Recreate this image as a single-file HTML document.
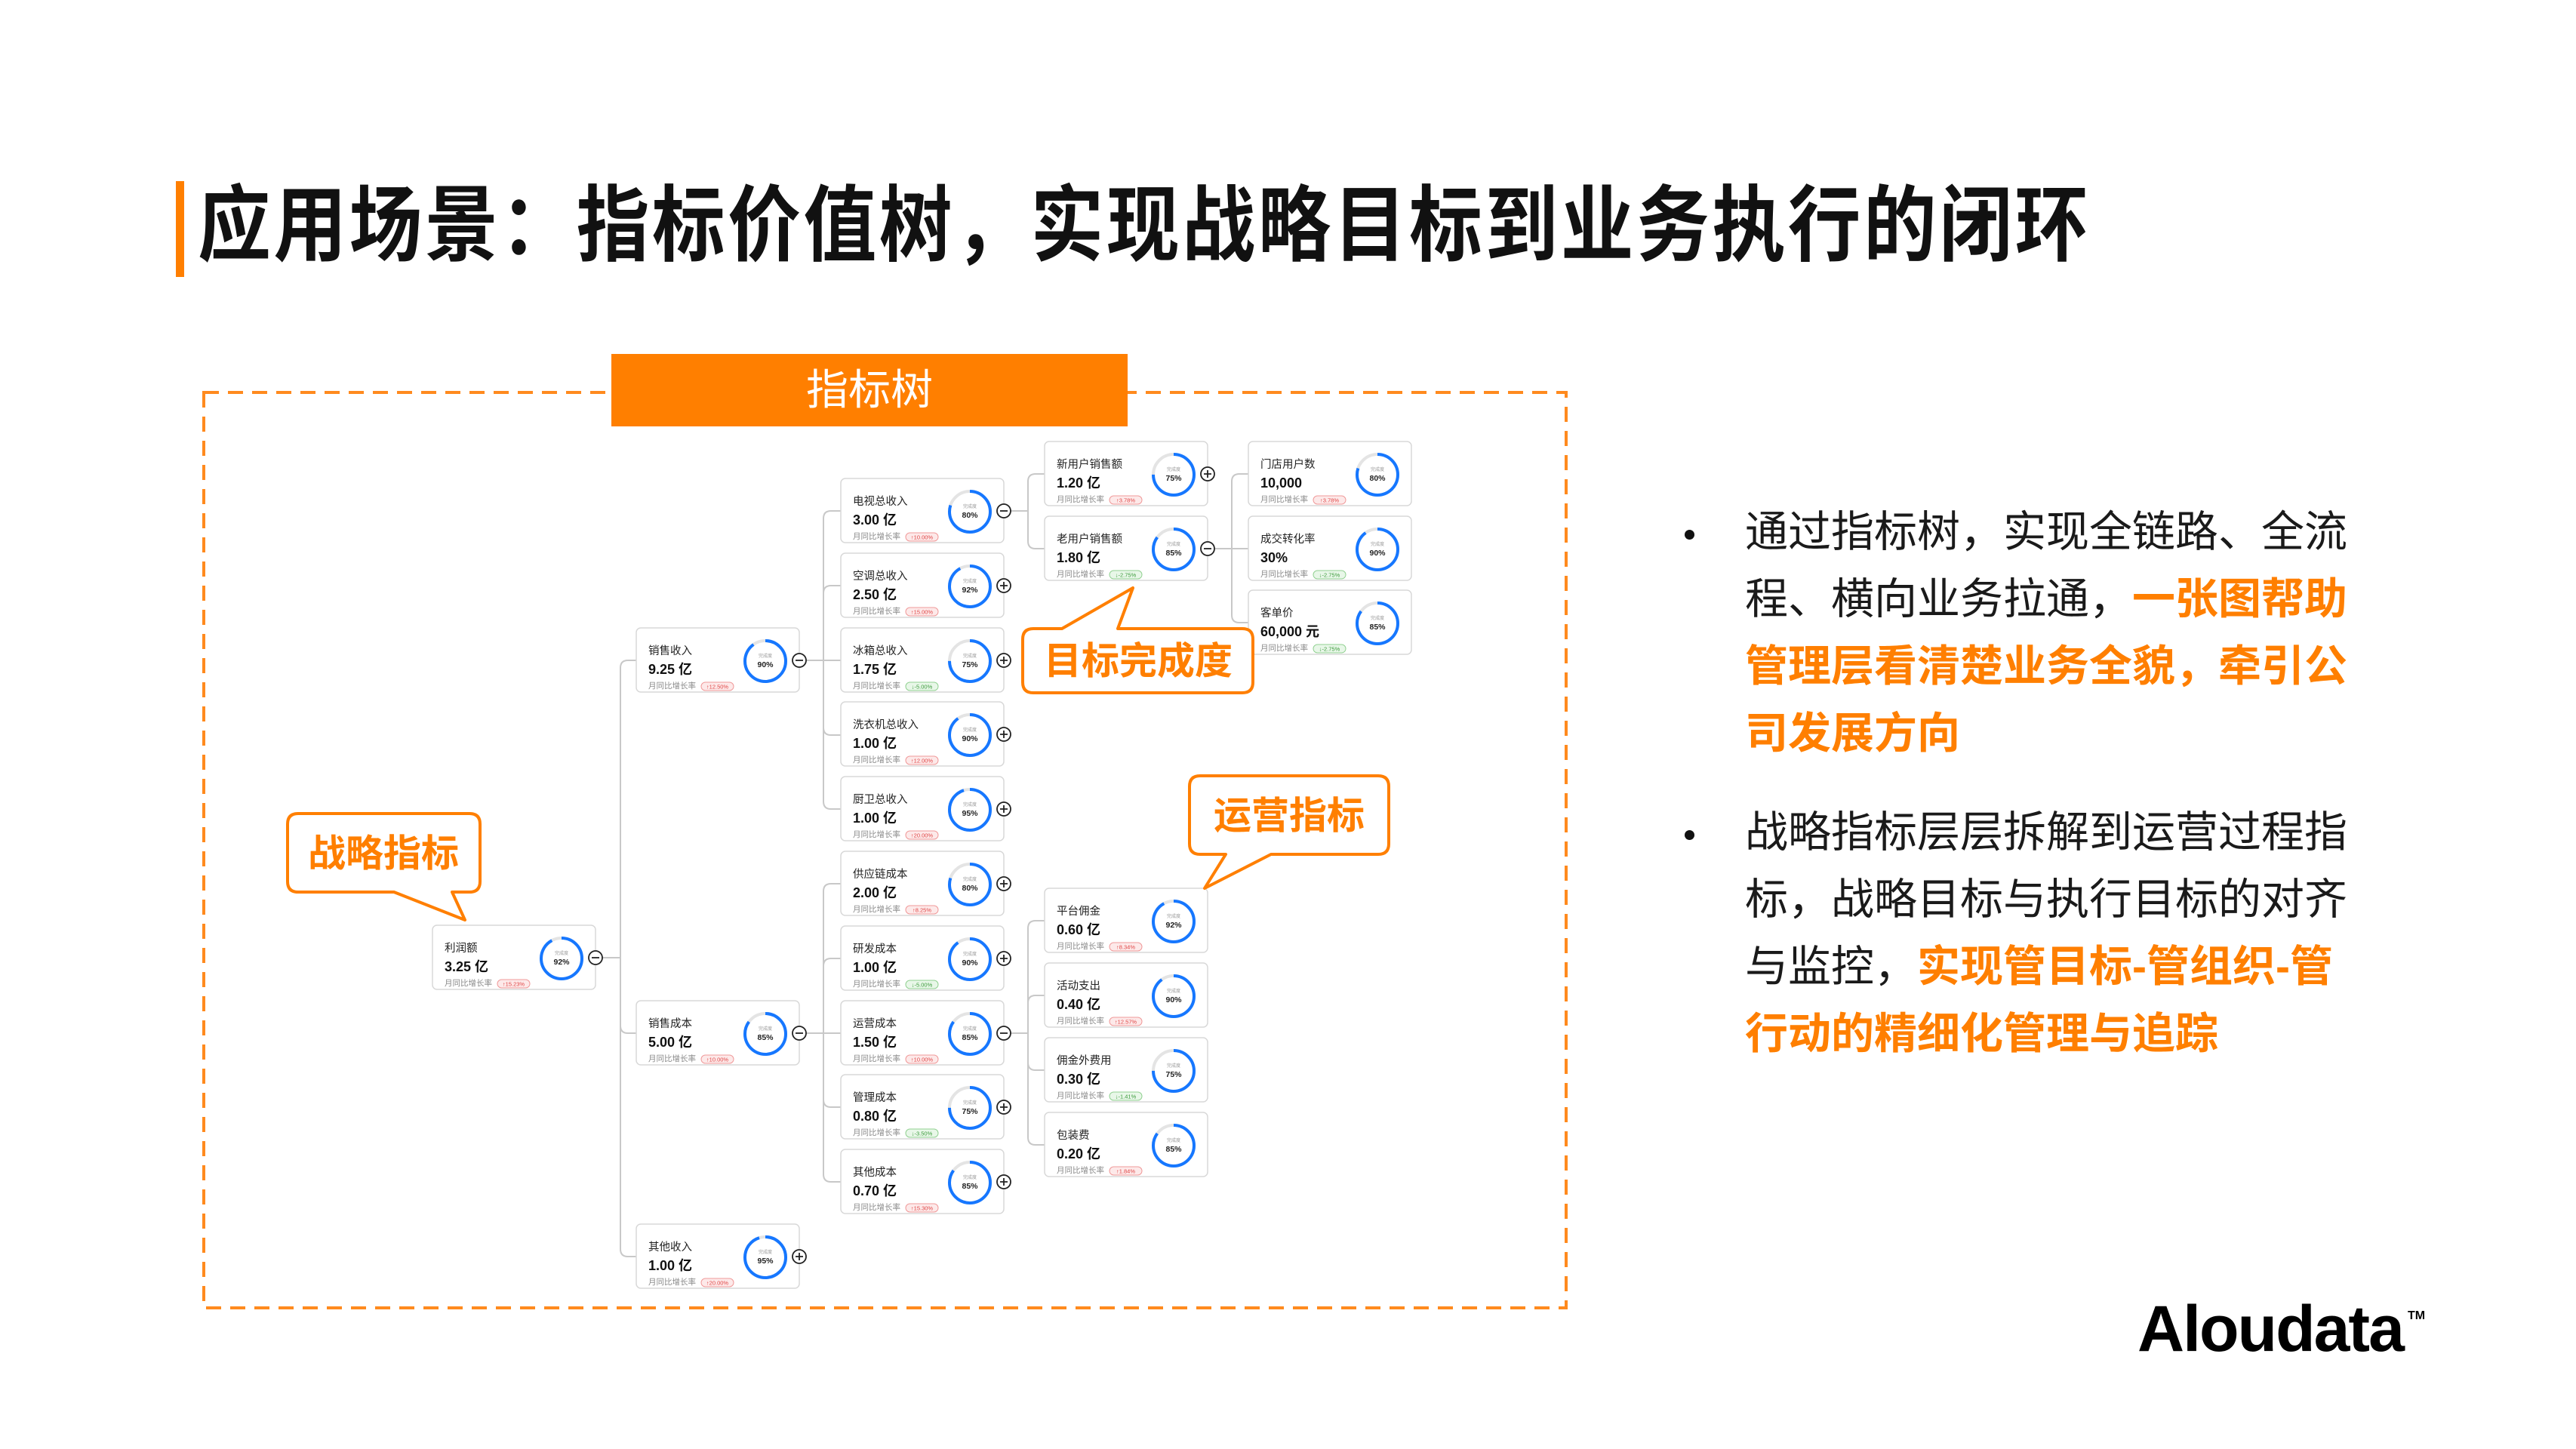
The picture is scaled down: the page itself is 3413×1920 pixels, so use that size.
<!DOCTYPE html>
<html><head><meta charset="utf-8">
<style>
html,body{margin:0;padding:0;background:#fff;}
body{width:3413px;height:1920px;position:relative;overflow:hidden;font-family:"Liberation Sans","Noto Sans CJK SC",sans-serif;}
.abs{position:absolute;}
.title{left:262px;top:238px;font-size:110px;line-height:124px;font-weight:bold;color:#111;letter-spacing:4px;white-space:nowrap;transform:scaleX(0.88);transform-origin:0 50%;}
.bar{left:233px;top:240px;width:11px;height:127px;background:#ff7f00;}
.hdr{left:810px;top:469px;width:684px;height:96px;background:#ff7f00;color:#fff;font-size:56px;line-height:96px;text-align:center;}
.txt{left:2312px;font-size:57px;line-height:89px;color:#1a1a1a;white-space:nowrap;}
.txt b{color:#ff7f00;}
.dot{width:13px;height:13px;border-radius:50%;background:#111;left:2232px;}
.logo{left:2832px;top:1712px;font-size:86px;font-weight:bold;color:#000;letter-spacing:-2px;}
.tm{left:3190px;top:1735px;font-size:16px;font-weight:bold;}
</style></head><body>
<div class="abs bar"></div>
<div class="abs title">应用场景：指标价值树，实现战略目标到业务执行的闭环</div>

<svg class="abs" style="left:0;top:0" width="3413" height="1920" font-family="Liberation Sans, Noto Sans CJK SC, sans-serif">
<rect x="270" y="520" width="1805" height="1213" fill="none" stroke="#ff8a1e" stroke-width="4" stroke-dasharray="20 12"/>
<g transform="translate(0,-6)">
<g fill="none" stroke="#c8c8c8" stroke-width="2">
<path d="M798,1275 H822"/><path d="M822,1275 V891 Q822,881 832,881 H843"/><path d="M822,1275 V1365 Q822,1375 832,1375 H843"/><path d="M822,1275 V1661 Q822,1671 832,1671 H843"/>
<path d="M1068,881 H1114"/><path d="M1091,881 V693 Q1091,683 1101,683 H1114"/><path d="M1091,881 V792 Q1091,782 1101,782 H1114"/><path d="M1091,881 V970 Q1091,980 1101,980 H1114"/><path d="M1091,881 V1068 Q1091,1078 1101,1078 H1114"/>
<path d="M1068,1375 H1114"/><path d="M1091,1375 V1187 Q1091,1177 1101,1177 H1114"/><path d="M1091,1375 V1286 Q1091,1276 1101,1276 H1114"/><path d="M1091,1375 V1463 Q1091,1473 1101,1473 H1114"/><path d="M1091,1375 V1562 Q1091,1572 1101,1572 H1114"/>
<path d="M1339,683 H1362"/><path d="M1362,683 V644 Q1362,634 1372,634 H1384"/><path d="M1362,683 V723 Q1362,733 1372,733 H1384"/>
<path d="M1339,1375 H1362"/><path d="M1362,1375 V1236 Q1362,1226 1372,1226 H1384"/><path d="M1362,1375 V1335 Q1362,1325 1372,1325 H1384"/><path d="M1362,1375 V1414 Q1362,1424 1372,1424 H1384"/><path d="M1362,1375 V1513 Q1362,1523 1372,1523 H1384"/>
<path d="M1609,733 H1654"/><path d="M1632,733 V644 Q1632,634 1642,634 H1654"/><path d="M1632,733 V821 Q1632,831 1642,831 H1654"/>
</g>
<defs>
<g id="box"><rect x="0" y="0" width="216" height="85" rx="6" fill="#fff" stroke="#d8d8d8" stroke-width="1.5"/></g>
<g id="minus"><circle cx="216" cy="43" r="9" fill="#fff" stroke="#222" stroke-width="1.8"/><path d="M211,43 H221" stroke="#222" stroke-width="1.8"/></g>
<g id="plus"><circle cx="216" cy="43" r="9" fill="#fff" stroke="#222" stroke-width="1.8"/><path d="M211,43 H221 M216,38 V48" stroke="#222" stroke-width="1.8"/></g>
<g id="ring"><circle cx="171" cy="44" r="27" fill="none" stroke="#e4e4e4" stroke-width="4"/><text x="171" y="39" font-size="6" fill="#999" text-anchor="middle">完成度</text></g>
<g id="up"><rect x="86" y="72" width="43" height="11" rx="5.5" fill="#fde9e9" stroke="#f09a9a"/></g>
<g id="dn"><rect x="86" y="72" width="43" height="11" rx="5.5" fill="#e8f7e8" stroke="#92d192"/></g>
</defs>
<g font-family="Liberation Sans, Noto Sans CJK SC, sans-serif">
<g transform="translate(573,1232)"><use href="#box"/><text x="16" y="35" font-size="14.5" fill="#222">利润额</text><text x="16" y="61" font-size="18" font-weight="bold" fill="#111">3.25 亿</text><text x="16" y="80" font-size="10.5" fill="#888">月同比增长率</text><use href="#up"/><text x="107.5" y="80.5" font-size="7.5" fill="#e04646" text-anchor="middle">↑15.23%</text><use href="#ring"/><circle cx="171" cy="44" r="27" fill="none" stroke="#1677ff" stroke-width="4" stroke-dasharray="156.1 200" transform="rotate(-90 171 44)"/><text x="171" y="52" font-size="10.5" font-weight="bold" fill="#222" text-anchor="middle">92%</text><use href="#minus"/></g>

<g transform="translate(843,838)"><use href="#box"/><text x="16" y="35" font-size="14.5" fill="#222">销售收入</text><text x="16" y="61" font-size="18" font-weight="bold" fill="#111">9.25 亿</text><text x="16" y="80" font-size="10.5" fill="#888">月同比增长率</text><use href="#up"/><text x="107.5" y="80.5" font-size="7.5" fill="#e04646" text-anchor="middle">↑12.50%</text><use href="#ring"/><circle cx="171" cy="44" r="27" fill="none" stroke="#1677ff" stroke-width="4" stroke-dasharray="152.7 200" transform="rotate(-90 171 44)"/><text x="171" y="52" font-size="10.5" font-weight="bold" fill="#222" text-anchor="middle">90%</text><use href="#minus"/></g>
<g transform="translate(843,1332)"><use href="#box"/><text x="16" y="35" font-size="14.5" fill="#222">销售成本</text><text x="16" y="61" font-size="18" font-weight="bold" fill="#111">5.00 亿</text><text x="16" y="80" font-size="10.5" fill="#888">月同比增长率</text><use href="#up"/><text x="107.5" y="80.5" font-size="7.5" fill="#e04646" text-anchor="middle">↑10.00%</text><use href="#ring"/><circle cx="171" cy="44" r="27" fill="none" stroke="#1677ff" stroke-width="4" stroke-dasharray="144.2 200" transform="rotate(-90 171 44)"/><text x="171" y="52" font-size="10.5" font-weight="bold" fill="#222" text-anchor="middle">85%</text><use href="#minus"/></g>
<g transform="translate(843,1628)"><use href="#box"/><text x="16" y="35" font-size="14.5" fill="#222">其他收入</text><text x="16" y="61" font-size="18" font-weight="bold" fill="#111">1.00 亿</text><text x="16" y="80" font-size="10.5" fill="#888">月同比增长率</text><use href="#up"/><text x="107.5" y="80.5" font-size="7.5" fill="#e04646" text-anchor="middle">↑20.00%</text><use href="#ring"/><circle cx="171" cy="44" r="27" fill="none" stroke="#1677ff" stroke-width="4" stroke-dasharray="161.2 200" transform="rotate(-90 171 44)"/><text x="171" y="52" font-size="10.5" font-weight="bold" fill="#222" text-anchor="middle">95%</text><use href="#plus"/></g>

<g transform="translate(1114,640)"><use href="#box"/><text x="16" y="35" font-size="14.5" fill="#222">电视总收入</text><text x="16" y="61" font-size="18" font-weight="bold" fill="#111">3.00 亿</text><text x="16" y="80" font-size="10.5" fill="#888">月同比增长率</text><use href="#up"/><text x="107.5" y="80.5" font-size="7.5" fill="#e04646" text-anchor="middle">↑10.00%</text><use href="#ring"/><circle cx="171" cy="44" r="27" fill="none" stroke="#1677ff" stroke-width="4" stroke-dasharray="135.7 200" transform="rotate(-90 171 44)"/><text x="171" y="52" font-size="10.5" font-weight="bold" fill="#222" text-anchor="middle">80%</text><use href="#minus"/></g>
<g transform="translate(1114,739)"><use href="#box"/><text x="16" y="35" font-size="14.5" fill="#222">空调总收入</text><text x="16" y="61" font-size="18" font-weight="bold" fill="#111">2.50 亿</text><text x="16" y="80" font-size="10.5" fill="#888">月同比增长率</text><use href="#up"/><text x="107.5" y="80.5" font-size="7.5" fill="#e04646" text-anchor="middle">↑15.00%</text><use href="#ring"/><circle cx="171" cy="44" r="27" fill="none" stroke="#1677ff" stroke-width="4" stroke-dasharray="156.1 200" transform="rotate(-90 171 44)"/><text x="171" y="52" font-size="10.5" font-weight="bold" fill="#222" text-anchor="middle">92%</text><use href="#plus"/></g>
<g transform="translate(1114,838)"><use href="#box"/><text x="16" y="35" font-size="14.5" fill="#222">冰箱总收入</text><text x="16" y="61" font-size="18" font-weight="bold" fill="#111">1.75 亿</text><text x="16" y="80" font-size="10.5" fill="#888">月同比增长率</text><use href="#dn"/><text x="107.5" y="80.5" font-size="7.5" fill="#3a9a3a" text-anchor="middle">↓-5.00%</text><use href="#ring"/><circle cx="171" cy="44" r="27" fill="none" stroke="#1677ff" stroke-width="4" stroke-dasharray="127.2 200" transform="rotate(-90 171 44)"/><text x="171" y="52" font-size="10.5" font-weight="bold" fill="#222" text-anchor="middle">75%</text><use href="#plus"/></g>
<g transform="translate(1114,936)"><use href="#box"/><text x="16" y="35" font-size="14.5" fill="#222">洗衣机总收入</text><text x="16" y="61" font-size="18" font-weight="bold" fill="#111">1.00 亿</text><text x="16" y="80" font-size="10.5" fill="#888">月同比增长率</text><use href="#up"/><text x="107.5" y="80.5" font-size="7.5" fill="#e04646" text-anchor="middle">↑12.00%</text><use href="#ring"/><circle cx="171" cy="44" r="27" fill="none" stroke="#1677ff" stroke-width="4" stroke-dasharray="152.7 200" transform="rotate(-90 171 44)"/><text x="171" y="52" font-size="10.5" font-weight="bold" fill="#222" text-anchor="middle">90%</text><use href="#plus"/></g>
<g transform="translate(1114,1035)"><use href="#box"/><text x="16" y="35" font-size="14.5" fill="#222">厨卫总收入</text><text x="16" y="61" font-size="18" font-weight="bold" fill="#111">1.00 亿</text><text x="16" y="80" font-size="10.5" fill="#888">月同比增长率</text><use href="#up"/><text x="107.5" y="80.5" font-size="7.5" fill="#e04646" text-anchor="middle">↑20.00%</text><use href="#ring"/><circle cx="171" cy="44" r="27" fill="none" stroke="#1677ff" stroke-width="4" stroke-dasharray="161.2 200" transform="rotate(-90 171 44)"/><text x="171" y="52" font-size="10.5" font-weight="bold" fill="#222" text-anchor="middle">95%</text><use href="#plus"/></g>
<g transform="translate(1114,1134)"><use href="#box"/><text x="16" y="35" font-size="14.5" fill="#222">供应链成本</text><text x="16" y="61" font-size="18" font-weight="bold" fill="#111">2.00 亿</text><text x="16" y="80" font-size="10.5" fill="#888">月同比增长率</text><use href="#up"/><text x="107.5" y="80.5" font-size="7.5" fill="#e04646" text-anchor="middle">↑8.25%</text><use href="#ring"/><circle cx="171" cy="44" r="27" fill="none" stroke="#1677ff" stroke-width="4" stroke-dasharray="135.7 200" transform="rotate(-90 171 44)"/><text x="171" y="52" font-size="10.5" font-weight="bold" fill="#222" text-anchor="middle">80%</text><use href="#plus"/></g>
<g transform="translate(1114,1233)"><use href="#box"/><text x="16" y="35" font-size="14.5" fill="#222">研发成本</text><text x="16" y="61" font-size="18" font-weight="bold" fill="#111">1.00 亿</text><text x="16" y="80" font-size="10.5" fill="#888">月同比增长率</text><use href="#dn"/><text x="107.5" y="80.5" font-size="7.5" fill="#3a9a3a" text-anchor="middle">↓-5.00%</text><use href="#ring"/><circle cx="171" cy="44" r="27" fill="none" stroke="#1677ff" stroke-width="4" stroke-dasharray="152.7 200" transform="rotate(-90 171 44)"/><text x="171" y="52" font-size="10.5" font-weight="bold" fill="#222" text-anchor="middle">90%</text><use href="#plus"/></g>
<g transform="translate(1114,1332)"><use href="#box"/><text x="16" y="35" font-size="14.5" fill="#222">运营成本</text><text x="16" y="61" font-size="18" font-weight="bold" fill="#111">1.50 亿</text><text x="16" y="80" font-size="10.5" fill="#888">月同比增长率</text><use href="#up"/><text x="107.5" y="80.5" font-size="7.5" fill="#e04646" text-anchor="middle">↑10.00%</text><use href="#ring"/><circle cx="171" cy="44" r="27" fill="none" stroke="#1677ff" stroke-width="4" stroke-dasharray="144.2 200" transform="rotate(-90 171 44)"/><text x="171" y="52" font-size="10.5" font-weight="bold" fill="#222" text-anchor="middle">85%</text><use href="#minus"/></g>
<g transform="translate(1114,1430)"><use href="#box"/><text x="16" y="35" font-size="14.5" fill="#222">管理成本</text><text x="16" y="61" font-size="18" font-weight="bold" fill="#111">0.80 亿</text><text x="16" y="80" font-size="10.5" fill="#888">月同比增长率</text><use href="#dn"/><text x="107.5" y="80.5" font-size="7.5" fill="#3a9a3a" text-anchor="middle">↓-3.50%</text><use href="#ring"/><circle cx="171" cy="44" r="27" fill="none" stroke="#1677ff" stroke-width="4" stroke-dasharray="127.2 200" transform="rotate(-90 171 44)"/><text x="171" y="52" font-size="10.5" font-weight="bold" fill="#222" text-anchor="middle">75%</text><use href="#plus"/></g>
<g transform="translate(1114,1529)"><use href="#box"/><text x="16" y="35" font-size="14.5" fill="#222">其他成本</text><text x="16" y="61" font-size="18" font-weight="bold" fill="#111">0.70 亿</text><text x="16" y="80" font-size="10.5" fill="#888">月同比增长率</text><use href="#up"/><text x="107.5" y="80.5" font-size="7.5" fill="#e04646" text-anchor="middle">↑15.30%</text><use href="#ring"/><circle cx="171" cy="44" r="27" fill="none" stroke="#1677ff" stroke-width="4" stroke-dasharray="144.2 200" transform="rotate(-90 171 44)"/><text x="171" y="52" font-size="10.5" font-weight="bold" fill="#222" text-anchor="middle">85%</text><use href="#plus"/></g>

<g transform="translate(1384,591)"><use href="#box"/><text x="16" y="35" font-size="14.5" fill="#222">新用户销售额</text><text x="16" y="61" font-size="18" font-weight="bold" fill="#111">1.20 亿</text><text x="16" y="80" font-size="10.5" fill="#888">月同比增长率</text><use href="#up"/><text x="107.5" y="80.5" font-size="7.5" fill="#e04646" text-anchor="middle">↑3.78%</text><use href="#ring"/><circle cx="171" cy="44" r="27" fill="none" stroke="#1677ff" stroke-width="4" stroke-dasharray="127.2 200" transform="rotate(-90 171 44)"/><text x="171" y="52" font-size="10.5" font-weight="bold" fill="#222" text-anchor="middle">75%</text><use href="#plus"/></g>
<g transform="translate(1384,690)"><use href="#box"/><text x="16" y="35" font-size="14.5" fill="#222">老用户销售额</text><text x="16" y="61" font-size="18" font-weight="bold" fill="#111">1.80 亿</text><text x="16" y="80" font-size="10.5" fill="#888">月同比增长率</text><use href="#dn"/><text x="107.5" y="80.5" font-size="7.5" fill="#3a9a3a" text-anchor="middle">↓-2.75%</text><use href="#ring"/><circle cx="171" cy="44" r="27" fill="none" stroke="#1677ff" stroke-width="4" stroke-dasharray="144.2 200" transform="rotate(-90 171 44)"/><text x="171" y="52" font-size="10.5" font-weight="bold" fill="#222" text-anchor="middle">85%</text><use href="#minus"/></g>
<g transform="translate(1384,1183)"><use href="#box"/><text x="16" y="35" font-size="14.5" fill="#222">平台佣金</text><text x="16" y="61" font-size="18" font-weight="bold" fill="#111">0.60 亿</text><text x="16" y="80" font-size="10.5" fill="#888">月同比增长率</text><use href="#up"/><text x="107.5" y="80.5" font-size="7.5" fill="#e04646" text-anchor="middle">↑8.34%</text><use href="#ring"/><circle cx="171" cy="44" r="27" fill="none" stroke="#1677ff" stroke-width="4" stroke-dasharray="156.1 200" transform="rotate(-90 171 44)"/><text x="171" y="52" font-size="10.5" font-weight="bold" fill="#222" text-anchor="middle">92%</text></g>
<g transform="translate(1384,1282)"><use href="#box"/><text x="16" y="35" font-size="14.5" fill="#222">活动支出</text><text x="16" y="61" font-size="18" font-weight="bold" fill="#111">0.40 亿</text><text x="16" y="80" font-size="10.5" fill="#888">月同比增长率</text><use href="#up"/><text x="107.5" y="80.5" font-size="7.5" fill="#e04646" text-anchor="middle">↑12.57%</text><use href="#ring"/><circle cx="171" cy="44" r="27" fill="none" stroke="#1677ff" stroke-width="4" stroke-dasharray="152.7 200" transform="rotate(-90 171 44)"/><text x="171" y="52" font-size="10.5" font-weight="bold" fill="#222" text-anchor="middle">90%</text></g>
<g transform="translate(1384,1381)"><use href="#box"/><text x="16" y="35" font-size="14.5" fill="#222">佣金外费用</text><text x="16" y="61" font-size="18" font-weight="bold" fill="#111">0.30 亿</text><text x="16" y="80" font-size="10.5" fill="#888">月同比增长率</text><use href="#dn"/><text x="107.5" y="80.5" font-size="7.5" fill="#3a9a3a" text-anchor="middle">↓-1.41%</text><use href="#ring"/><circle cx="171" cy="44" r="27" fill="none" stroke="#1677ff" stroke-width="4" stroke-dasharray="127.2 200" transform="rotate(-90 171 44)"/><text x="171" y="52" font-size="10.5" font-weight="bold" fill="#222" text-anchor="middle">75%</text></g>
<g transform="translate(1384,1480)"><use href="#box"/><text x="16" y="35" font-size="14.5" fill="#222">包装费</text><text x="16" y="61" font-size="18" font-weight="bold" fill="#111">0.20 亿</text><text x="16" y="80" font-size="10.5" fill="#888">月同比增长率</text><use href="#up"/><text x="107.5" y="80.5" font-size="7.5" fill="#e04646" text-anchor="middle">↑1.84%</text><use href="#ring"/><circle cx="171" cy="44" r="27" fill="none" stroke="#1677ff" stroke-width="4" stroke-dasharray="144.2 200" transform="rotate(-90 171 44)"/><text x="171" y="52" font-size="10.5" font-weight="bold" fill="#222" text-anchor="middle">85%</text></g>

<g transform="translate(1654,591)"><use href="#box"/><text x="16" y="35" font-size="14.5" fill="#222">门店用户数</text><text x="16" y="61" font-size="18" font-weight="bold" fill="#111">10,000</text><text x="16" y="80" font-size="10.5" fill="#888">月同比增长率</text><use href="#up"/><text x="107.5" y="80.5" font-size="7.5" fill="#e04646" text-anchor="middle">↑3.78%</text><use href="#ring"/><circle cx="171" cy="44" r="27" fill="none" stroke="#1677ff" stroke-width="4" stroke-dasharray="135.7 200" transform="rotate(-90 171 44)"/><text x="171" y="52" font-size="10.5" font-weight="bold" fill="#222" text-anchor="middle">80%</text></g>
<g transform="translate(1654,690)"><use href="#box"/><text x="16" y="35" font-size="14.5" fill="#222">成交转化率</text><text x="16" y="61" font-size="18" font-weight="bold" fill="#111">30%</text><text x="16" y="80" font-size="10.5" fill="#888">月同比增长率</text><use href="#dn"/><text x="107.5" y="80.5" font-size="7.5" fill="#3a9a3a" text-anchor="middle">↓-2.75%</text><use href="#ring"/><circle cx="171" cy="44" r="27" fill="none" stroke="#1677ff" stroke-width="4" stroke-dasharray="152.7 200" transform="rotate(-90 171 44)"/><text x="171" y="52" font-size="10.5" font-weight="bold" fill="#222" text-anchor="middle">90%</text></g>
<g transform="translate(1654,788)"><use href="#box"/><text x="16" y="35" font-size="14.5" fill="#222">客单价</text><text x="16" y="61" font-size="18" font-weight="bold" fill="#111">60,000 元</text><text x="16" y="80" font-size="10.5" fill="#888">月同比增长率</text><use href="#dn"/><text x="107.5" y="80.5" font-size="7.5" fill="#3a9a3a" text-anchor="middle">↓-2.75%</text><use href="#ring"/><circle cx="171" cy="44" r="27" fill="none" stroke="#1677ff" stroke-width="4" stroke-dasharray="144.2 200" transform="rotate(-90 171 44)"/><text x="171" y="52" font-size="10.5" font-weight="bold" fill="#222" text-anchor="middle">85%</text></g>
</g>
</g>

<g fill="#fff" stroke="#ff7f00" stroke-width="4" stroke-linejoin="round">
<path d="M395,1078 H622 Q636,1078 636,1092 V1168 Q636,1182 622,1182 H599 L616,1219 L522,1182 H395 Q381,1182 381,1168 V1092 Q381,1078 395,1078 Z"/>
<path d="M1369,833 H1407 L1501,779 L1481,833 H1646 Q1660,833 1660,847 V904 Q1660,918 1646,918 H1369 Q1355,918 1355,904 V847 Q1355,833 1369,833 Z"/>
<path d="M1590,1028 H1826 Q1840,1028 1840,1042 V1118 Q1840,1132 1826,1132 H1684 L1596,1177 L1624,1132 H1590 Q1576,1132 1576,1118 V1042 Q1576,1028 1590,1028 Z"/>
</g>
<g fill="#ff7f00" font-size="50" font-weight="bold" text-anchor="middle" font-family="Liberation Sans, Noto Sans CJK SC, sans-serif">
<text x="508" y="1148">战略指标</text>
<text x="1508" y="893">目标完成度</text>
<text x="1708" y="1098">运营指标</text>
</g>
</svg>

<div class="abs hdr">指标树</div>

<div class="abs dot" style="top:702px"></div>
<div class="abs txt" style="top:661px">通过指标树，实现全链路、全流<br>程、横向业务拉通，<b>一张图帮助</b><br><b>管理层看清楚业务全貌，牵引公</b><br><b>司发展方向</b></div>
<div class="abs dot" style="top:1100px"></div>
<div class="abs txt" style="top:1059px">战略指标层层拆解到运营过程指<br>标，战略目标与执行目标的对齐<br>与监控，<b>实现管目标-管组织-管</b><br><b>行动的精细化管理与追踪</b></div>

<div class="abs logo">Aloudata</div>
<div class="abs tm">TM</div>
</body></html>
